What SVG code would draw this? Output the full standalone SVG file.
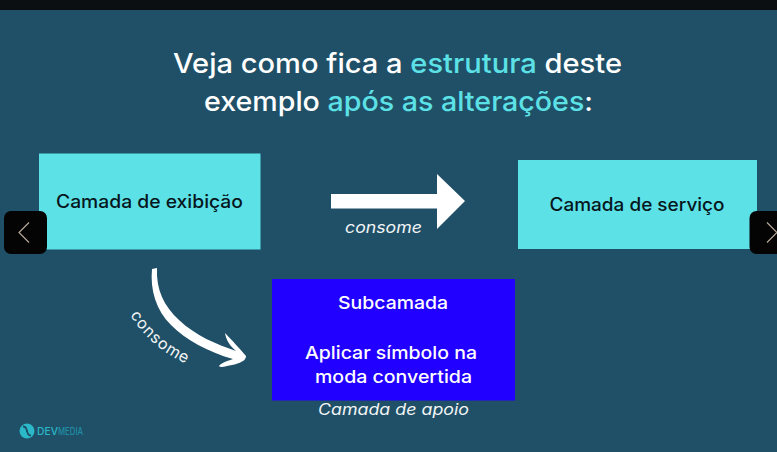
<svg xmlns="http://www.w3.org/2000/svg" width="777" height="452" viewBox="0 0 777 452">
<style>
text{font-family:"Inter","Noto Sans","Liberation Sans",sans-serif;font-weight:500}
.w{fill:#fff}.c{fill:#5ce1e6}.k{fill:#06161c;font-size:18px;font-weight:500}
.t{font-size:27px;font-weight:500}.s{font-size:17.500px;fill:#fff}
.i{font-size:15.500px;font-style:italic;fill:#f2f5f6;font-weight:400}
.box{fill:#5ce1e6}
.nav{fill:#040404}.chev{fill:none;stroke:#b5a898;stroke-width:1.200}
</style>
<defs><path id="curve" d="M130 315C143 336 163 354 191 366"/></defs>
<rect width="777" height="452" fill="#205067"/>
<rect width="777" height="10" fill="#0c0f11"/>
<g id="title">
<text class="t w" x="173" y="72.500" textLength="449" lengthAdjust="spacingAndGlyphs">Veja como fica a <tspan class="c">estrutura</tspan> deste</text>
<text class="t w" x="204" y="110.500" textLength="389" lengthAdjust="spacingAndGlyphs">exemplo <tspan class="c">após as alterações</tspan>:</text>
</g>
<g id="connectors">
<path fill="#fff" d="M331 194H437V174L465 201L437 229V208.500H331Z"/>
<path fill="#fff" d="M152 269L157 268C156 290 164 306 179 320C196 336 216 344 236 351C230 346 226 340 225 333C231 339 240 349 246 356C246 361 240 364 222 367C217 367 218 364 233 359C208 352 186 340 171 325C156 310 150 290 152 269Z"/>
<text class="i" x="345" y="233" textLength="77" lengthAdjust="spacingAndGlyphs">consome</text>
<text style="font-size:16px;fill:#f2f5f6;font-weight:400"><textPath href="#curve" textLength="75" lengthAdjust="spacing">consome</textPath></text>
</g>
<g id="node-exibicao">
<rect class="box" x="39" y="153.500" width="221.500" height="96"/>
<text class="k" x="56" y="208" textLength="187" lengthAdjust="spacingAndGlyphs">Camada de exibição</text>
</g>
<g id="node-servico">
<rect class="box" x="518" y="160" width="239" height="89"/>
<text class="k" x="549.500" y="210.500" textLength="175" lengthAdjust="spacingAndGlyphs">Camada de serviço</text>
</g>
<g id="node-subcamada">
<rect x="272" y="279" width="243" height="121.500" fill="#2200ff"/>
<text class="s" x="338" y="309" textLength="110" lengthAdjust="spacingAndGlyphs">Subcamada</text>
<text class="s" x="305" y="358.500" textLength="172" lengthAdjust="spacingAndGlyphs">Aplicar símbolo na</text>
<text class="s" x="315" y="383" textLength="157" lengthAdjust="spacingAndGlyphs">moda convertida</text>
<text class="i" x="318" y="415" textLength="151" lengthAdjust="spacingAndGlyphs">Camada de apoio</text>
</g>
<g id="nav-prev">
<rect class="nav" x="4" y="211" width="43" height="43" rx="7"/>
<path class="chev" d="M29 222.500L19 232.500L29 242.500"/>
</g>
<g id="nav-next">
<rect class="nav" x="749.500" y="211" width="43" height="43" rx="7"/>
<path class="chev" d="M767 222.500L777 232.500L767 242.500"/>
</g>
<g id="logo">
<circle cx="27" cy="431" r="7.500" fill="#2bb8c8"/>
<path d="M23 426.500C28 426.500 25 431 28 431M31 435.500C26 435.500 29 431 26 431" fill="none" stroke="#205067" stroke-width="1.800"/>
<text x="37" y="435" font-size="10" font-weight="700" fill="#2bb8c8" textLength="21" lengthAdjust="spacingAndGlyphs">DEV</text>
<text x="58" y="435" font-size="10" font-weight="500" fill="#1f8ea4" textLength="25" lengthAdjust="spacingAndGlyphs">MEDIA</text>
</g>
</svg>
